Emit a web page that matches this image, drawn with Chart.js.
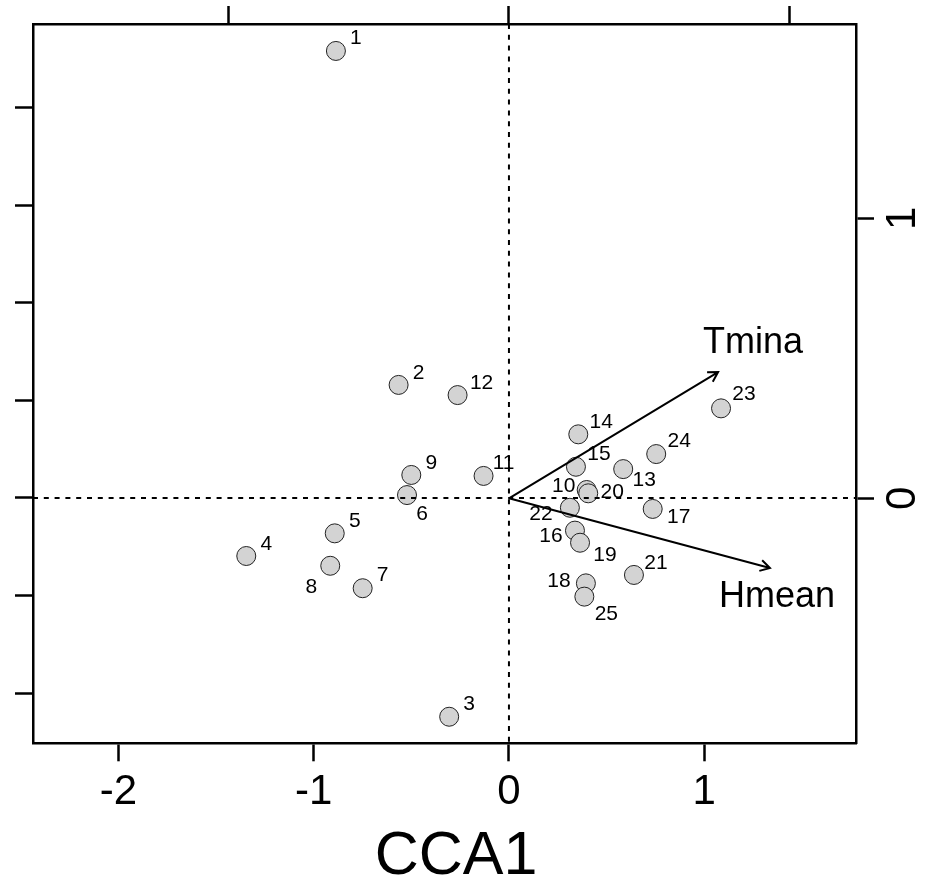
<!DOCTYPE html>
<html lang="en">
<head>
    <meta charset="UTF-8">
    <title>CCA biplot</title>
    <script src="https://cdn.jsdelivr.net/npm/chart.js"></script>
    <style>
        body { margin: 0; background: #fff; }
        canvas { display: block; }
    </style>
</head>
<body>
    <canvas id="ccaChart" width="941" height="889"></canvas>
    <script>
    // site scores (CCA1 / CCA2)
    var siteLabels = ['1','2','3','4','5','6','7','8','9','10','11','12','13',
                      '14','15','16','17','18','19','20','21','22','23','24','25'];
    var siteX = [-0.886, -0.565, -0.306, -1.345, -0.892, -0.522, -0.749, -0.915, -0.500, 0.398,
                 -0.130, -0.263, 0.585, 0.355, 0.343, 0.338, 0.736, 0.394, 0.364, 0.406,
                 0.640, 0.312, 1.086, 0.754, 0.386];
    var siteY = [2.289, 0.579, -1.120, -0.297, -0.181, 0.015, -0.462, -0.347, 0.118, 0.041,
                 0.113, 0.527, 0.148, 0.326, 0.160, -0.167, -0.056, -0.437, -0.229, 0.024,
                 -0.394, -0.050, 0.459, 0.225, -0.505];

    // environmental arrows (biplot scale, top/right axes)
    var envNames = ['Tmina', 'Hmean'];
    var envX = [0.746, 0.931];
    var envY = [0.451, -0.249];

    // tick values
    var xTicks = [-2, -1, 0, 1];
    var yTicks = [-1, -0.5, 0, 0.5, 1, 1.5, 2];
    var x2Ticks = [-1, 0, 1];
    var y2Ticks = [0, 1];

    // where each text label sits relative to its point / arrow tip (px)
    var siteLabelShift = [[20,-13],[20,-12],[20,-13],[20,-12],[20,-12],[15,19],[20,-13],[-19,21],
                          [20,-12],[-23,-4],[20,-13],[24,-12],[21,11],[23,-12],[23,-13],[-24,6],
                          [26,8],[-27,-2],[25,12],[24,-1],[22,-12],[-29,6],[23,-14],[23,-13],[22,18]];
    var envLabelShift = [[35,-29],[7,29]];

    var FONT = "'Liberation Sans', Arial, sans-serif";

    function fixTicks(list) {
        return function (s) { s.ticks = list.map(function (v) { return { value: v }; }); };
    }

    var axisCommon = {
        type: 'linear',
        grid: { drawOnChartArea: false, drawTicks: true, tickLength: 18, tickWidth: 2.5, tickColor: '#000', color: '#000' },
        border: { display: true, color: '#000', width: 2.5 }
    };

    var biplotExtras = {
        id: 'biplotExtras',
        afterDatasetsDraw: function (chart) {
            var ctx = chart.ctx, a = chart.chartArea;
            var sx = chart.scales.x, sy = chart.scales.y, sx2 = chart.scales.x2, sy2 = chart.scales.y2;
            ctx.save();

            // dotted zero lines
            ctx.strokeStyle = '#000';
            ctx.lineWidth = 2;
            ctx.setLineDash([5, 5.8]);
            var zx = sx.getPixelForValue(0), zy = sy.getPixelForValue(0);
            ctx.beginPath();
            ctx.moveTo(a.left, zy); ctx.lineTo(a.right, zy);
            ctx.moveTo(zx, a.top); ctx.lineTo(zx, a.bottom);
            ctx.stroke();
            ctx.setLineDash([]);

            // site labels
            ctx.fillStyle = '#000';
            ctx.font = '21px ' + FONT;
            ctx.textAlign = 'center';
            ctx.textBaseline = 'middle';
            siteLabels.forEach(function (lab, i) {
                ctx.fillText(lab,
                    sx.getPixelForValue(siteX[i]) + siteLabelShift[i][0],
                    sy.getPixelForValue(siteY[i]) + siteLabelShift[i][1]);
            });

            // arrows
            var ox = sx2.getPixelForValue(0), oy = sy2.getPixelForValue(0);
            ctx.lineWidth = 2;
            ctx.font = '36px ' + FONT;
            envNames.forEach(function (name, i) {
                var tx = sx2.getPixelForValue(envX[i]), ty = sy2.getPixelForValue(envY[i]);
                var ang = Math.atan2(ty - oy, tx - ox), hl = 11, spread = Math.PI / 6;
                ctx.beginPath();
                ctx.moveTo(ox, oy); ctx.lineTo(tx, ty);
                ctx.moveTo(tx - hl * Math.cos(ang - spread), ty - hl * Math.sin(ang - spread));
                ctx.lineTo(tx, ty);
                ctx.lineTo(tx - hl * Math.cos(ang + spread), ty - hl * Math.sin(ang + spread));
                ctx.stroke();
                ctx.fillText(name, tx + envLabelShift[i][0], ty + envLabelShift[i][1]);
            });
            ctx.restore();
        },
        afterDraw: function (chart) {
            var ctx = chart.ctx, sy2 = chart.scales.y2;
            ctx.save();
            ctx.fillStyle = '#000';
            ctx.textAlign = 'center';
            ctx.textBaseline = 'middle';
            // right axis labels, parallel to the axis
            ctx.font = '42px ' + FONT;
            y2Ticks.forEach(function (v) {
                ctx.save();
                ctx.translate(sy2.left + 47, sy2.getPixelForValue(v));
                ctx.rotate(-Math.PI / 2);
                ctx.fillText(String(v), 0, 0);
                ctx.restore();
            });
            // axis title
            ctx.font = '61px ' + FONT;
            ctx.fillText('CCA1', 456, 857);
            ctx.restore();
        }
    };

    var ctx = document.getElementById('ccaChart').getContext('2d');
    var ccaChart = new Chart(ctx, {
        type: 'scatter',
        data: {
            datasets: [{
                label: 'sites',
                data: siteX.map(function (v, i) { return { x: v, y: siteY[i] }; }),
                pointRadius: 9.5,
                pointHoverRadius: 9.5,
                backgroundColor: '#d3d3d3',
                borderColor: '#222',
                borderWidth: 1,
                xAxisID: 'x',
                yAxisID: 'y'
            }]
        },
        options: {
            responsive: false,
            animation: false,
            devicePixelRatio: 1,
            layout: { padding: 0 },
            plugins: { legend: { display: false }, tooltip: { enabled: false } },
            scales: {
                x: Object.assign({}, axisCommon, {
                    position: 'bottom', min: -2.437, max: 1.777,
                    afterBuildTicks: fixTicks(xTicks),
                    afterFit: function (s) { s.height = 145.7; },
                    ticks: { autoSkip: false, maxRotation: 0, padding: 6, color: '#000',
                             font: { family: FONT, size: 42 },
                             callback: function (v) { return String(v); } }
                }),
                x2: Object.assign({}, axisCommon, {
                    position: 'top', min: -1.698, max: 1.238,
                    afterBuildTicks: fixTicks(x2Ticks),
                    afterFit: function (s) { s.height = 24; },
                    ticks: { autoSkip: false, maxRotation: 0, color: 'rgba(0,0,0,0)', font: { size: 10 } }
                }),
                y: Object.assign({}, axisCommon, {
                    position: 'left', min: -1.256, max: 2.427,
                    afterBuildTicks: fixTicks(yTicks),
                    afterFit: function (s) { s.width = 33; },
                    ticks: { autoSkip: false, color: 'rgba(0,0,0,0)', font: { size: 10 } }
                }),
                y2: Object.assign({}, axisCommon, {
                    position: 'right', min: -0.875, max: 1.694,
                    afterBuildTicks: fixTicks(y2Ticks),
                    afterFit: function (s) { s.width = 85; },
                    ticks: { autoSkip: false, color: 'rgba(0,0,0,0)', font: { size: 10 } }
                })
            }
        },
        plugins: [biplotExtras]
    });
    </script>
</body>
</html>
